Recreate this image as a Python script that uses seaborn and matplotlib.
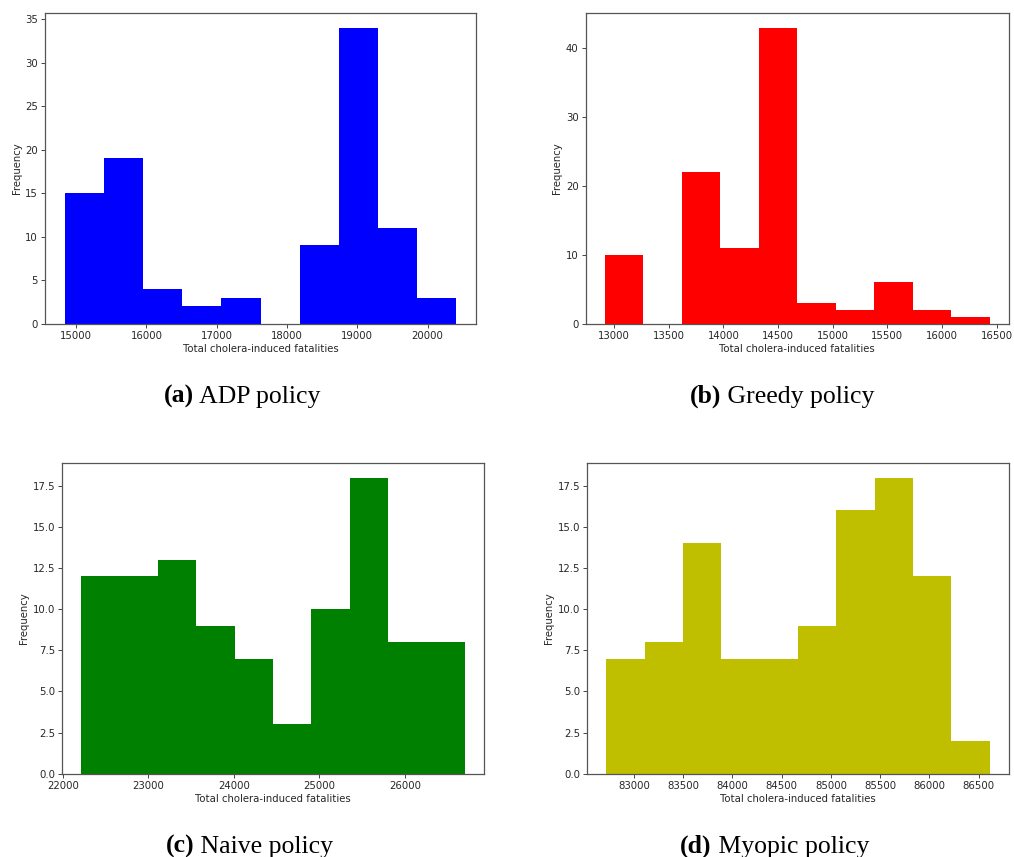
import numpy as np
import pandas as pd
import matplotlib
matplotlib.use("Agg")
import matplotlib.pyplot as plt
import seaborn as sns

# Histogram bin edges and counts (100 simulation runs per policy)
adp_edges = np.linspace(14835, 20410, 11)
adp_counts = [15, 19, 4, 2, 3, 0, 9, 34, 11, 3]

greedy_edges = np.linspace(12917, 16437, 11)
greedy_counts = [10, 0, 22, 11, 43, 3, 2, 6, 2, 1]

naive_edges = np.linspace(22217, 26702, 11)
naive_counts = [12, 12, 13, 9, 7, 3, 10, 18, 8, 8]

myopic_edges = np.linspace(82721, 86614, 11)
myopic_counts = [7, 8, 14, 7, 7, 9, 16, 18, 12, 2]

panel_letters = ["(a)", "(b)", "(c)", "(d)"]
panel_names = ["ADP policy", "Greedy policy", "Naive policy", "Myopic policy"]
bar_colors = ["#0000ff", "#ff0000", "#008000", "#bfbf00"]

x_label = "Total cholera-induced fatalities"
y_label = "Frequency"

W, H = 1014, 857
fig = plt.figure(figsize=(W / 100, H / 100), dpi=100)

# axes boxes in pixels: left, top, right, bottom
boxes = [
    (45, 13, 476, 323.7),
    (585.7, 13, 1009, 323.7),
    (62.3, 462.7, 484, 773.7),
    (587.3, 462.7, 1009, 773.7),
]
caption_pos = [(242, 403), (782, 403), (249.5, 853), (774.7, 853)]

datasets = [
    (adp_edges, adp_counts),
    (greedy_edges, greedy_counts),
    (naive_edges, naive_counts),
    (myopic_edges, myopic_counts),
]

y_ticks = [
    np.arange(0, 36, 5),
    np.arange(0, 41, 10),
    np.arange(0, 17.6, 2.5),
    np.arange(0, 17.6, 2.5),
]
x_steps = [1000, 500, 1000, 500]

fs = 7.3
text_color = "#262626"
spine_color = "#555555"

for i, ((edges, counts), (l, t, r, b)) in enumerate(zip(datasets, boxes)):
    ax = fig.add_axes([l / W, 1 - b / H, (r - l) / W, (b - t) / H])
    centers = (edges[:-1] + edges[1:]) / 2
    df = pd.DataFrame({"value": centers, "count": counts})
    sns.histplot(data=df, x="value", weights="count", bins=list(edges), ax=ax,
                 color=bar_colors[i], alpha=1.0, linewidth=0)
    span = edges[-1] - edges[0]
    ax.set_xlim(edges[0] - 0.05 * span, edges[-1] + 0.05 * span)
    ax.set_ylim(0, max(counts) * 1.05)
    ax.set_yticks(y_ticks[i])
    ax.xaxis.set_major_locator(matplotlib.ticker.MultipleLocator(x_steps[i]))
    ax.set_xlabel(x_label, fontsize=fs, color=text_color, labelpad=2.5)
    ax.set_ylabel(y_label, fontsize=fs, color=text_color, labelpad=2.5)
    ax.tick_params(labelsize=fs, colors=text_color, length=2.6, width=0.6,
                   pad=2.5)
    for s in ax.spines.values():
        s.set_color(spine_color)
        s.set_linewidth(0.9)
    ax.grid(False)

# Captions: bold panel letter followed by the policy name
fig.canvas.draw()
renderer = fig.canvas.get_renderer()
for (cx, cy), letter, name in zip(caption_pos, panel_letters, panel_names):
    t1 = fig.text(0, 1 - cy / H, letter, fontsize=18.5, fontweight="bold",
                  family="Liberation Serif", ha="left", va="baseline")
    t2 = fig.text(0, 1 - cy / H, " " + name, fontsize=18.5,
                  family="Liberation Serif", ha="left", va="baseline")
    w1 = t1.get_window_extent(renderer).width
    w2 = t2.get_window_extent(renderer).width
    x0 = cx - (w1 + w2) / 2
    t1.set_x(x0 / W)
    t2.set_x((x0 + w1) / W)

fig.savefig("out.png", dpi=100)
